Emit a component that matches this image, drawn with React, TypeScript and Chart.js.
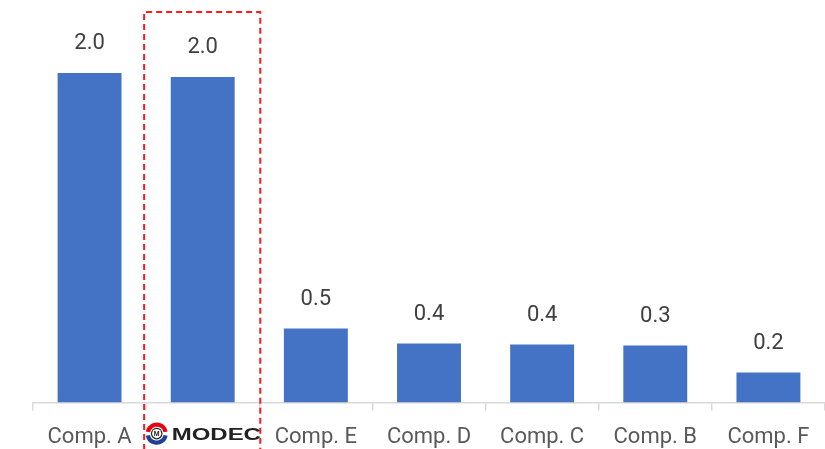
import React, { useEffect, useRef } from "react";
import { Chart, registerables } from "chart.js";

Chart.register(...registerables);

const categories = ["Comp. A", "MODEC", "Comp. E", "Comp. D", "Comp. C", "Comp. B", "Comp. F"];
const values = [2.0, 1.976, 0.45, 0.359, 0.353, 0.347, 0.182];
const valueLabels = ["2.0", "2.0", "0.5", "0.4", "0.4", "0.3", "0.2"];
const highlightIndex = 1;

const valueLabelPlugin = {
  id: "valueLabels",
  afterDatasetsDraw(chart: any) {
    const { ctx } = chart;
    const meta = chart.getDatasetMeta(0);
    ctx.save();
    ctx.font = "22px Roboto";
    ctx.fillStyle = "#404040";
    ctx.textAlign = "center";
    ctx.textBaseline = "middle";
    meta.data.forEach((bar: any, i: number) => {
      ctx.fillText(valueLabels[i], bar.x, bar.y - 29);
    });
    ctx.restore();
  },
};

const logoPlugin = {
  id: "modecLogo",
  afterDraw(chart: any) {
    const { ctx, scales } = chart;
    const x = scales.x;
    const cx = x.getPixelForValue(highlightIndex);
    const catW = (x.right - x.left) / categories.length;
    const labelY = x.top + 31;
    // highlight box
    ctx.save();
    ctx.strokeStyle = "#ff1a1a";
    ctx.lineWidth = 2;
    ctx.setLineDash([6, 4]);
    const l = cx - catW / 2 - 2;
    const r = cx + catW / 2 + 1;
    ctx.beginPath();
    ctx.moveTo(l, chart.height + 5);
    ctx.lineTo(l, 12);
    ctx.lineTo(r, 12);
    ctx.lineTo(r, chart.height + 5);
    ctx.stroke();
    ctx.restore();

    // logo
    const lx = cx - 46;
    const ly = labelY;
    ctx.save();
    ctx.lineWidth = 4.2;
    ctx.strokeStyle = "#e60012";
    ctx.beginPath();
    ctx.arc(lx, ly, 9, Math.PI * 1.06, Math.PI * 1.94);
    ctx.stroke();
    ctx.strokeStyle = "#1d3f94";
    ctx.beginPath();
    ctx.arc(lx, ly, 9, Math.PI * 0.06, Math.PI * 0.94);
    ctx.stroke();
    ctx.fillStyle = "#222";
    ctx.beginPath();
    ctx.arc(lx, ly, 5.8, 0, Math.PI * 2);
    ctx.fill();
    ctx.fillStyle = "#fff";
    ctx.beginPath();
    ctx.arc(lx, ly, 4.6, 0, Math.PI * 2);
    ctx.fill();
    ctx.fillStyle = "#222";
    ctx.font = "bold 7px 'Liberation Sans'";
    ctx.textAlign = "center";
    ctx.textBaseline = "middle";
    ctx.fillText("M", lx, ly + 0.5);
    // text
    ctx.translate(lx + 15, ly + 6);
    ctx.scale(1.41, 1);
    ctx.font = "bold 17px 'Liberation Sans'";
    ctx.textAlign = "left";
    ctx.textBaseline = "alphabetic";
    ctx.fillStyle = "#222";
    ctx.fillText("MODEC", 0, 0);
    ctx.restore();
  },
};

export default function App() {
  const ref = useRef<HTMLCanvasElement | null>(null);
  useEffect(() => {
    if (!ref.current) return;
    const chart = new Chart(ref.current, {
      type: "bar",
      data: {
        labels: categories,
        datasets: [
          {
            data: values,
            backgroundColor: "#4472C4",
            barPercentage: 0.565,
            categoryPercentage: 1,
          },
        ],
      },
      options: {
        animation: false,
        responsive: true,
        maintainAspectRatio: false,
        layout: { padding: { left: 33, right: 0, top: 7, bottom: 0 } },
        plugins: { legend: { display: false }, tooltip: { enabled: false } },
        scales: {
          x: {
            offset: true,
            grid: {
              display: true,
              offset: true,
              drawOnChartArea: false,
              drawTicks: true,
              tickLength: 8,
              color: "#d9d9d9",
              lineWidth: 1.5,
            },
            border: { display: true, color: "#d9d9d9", width: 1.5 },
            ticks: {
              font: { family: "Roboto", size: 22 },
              color: (c: any) => (c.index === highlightIndex ? "rgba(0,0,0,0)" : "#595959"),
              padding: 14,
              maxRotation: 0,
              autoSkip: false,
            },
          },
          y: {
            display: false,
            min: 0,
            max: 2.4,
          },
        },
      },
      plugins: [valueLabelPlugin, logoPlugin],
    });
    return () => chart.destroy();
  }, []);
  return (
    <div style={{ position: "fixed", left: 0, top: 0, width: 825, height: 465, background: "#fff" }}>
      <canvas ref={ref} />
    </div>
  );
}
